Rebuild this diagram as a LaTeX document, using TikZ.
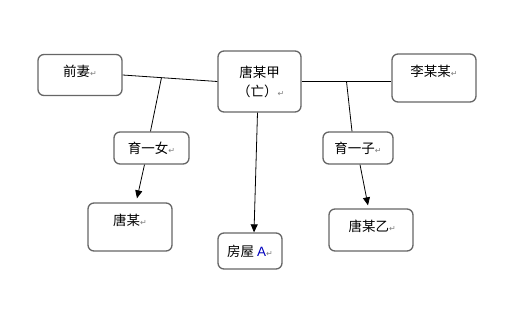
\documentclass[tikz,border=0pt]{standalone}
\usepackage{fontspec}
\setmainfont{Noto Sans CJK SC}
\newfontfamily\dejavu{DejaVu Sans}
\newfontfamily\arial{Liberation Sans}
\usetikzlibrary{arrows.meta}
\newcommand\parmark{{\fontsize{8}{8}\selectfont\dejavu\color{gray}↵}}
\tikzset{
  box/.style={
    shape = rectangle,
    draw = black!60,
    line width = 1.3pt,
    rounded corners = 6pt,
    fill = white,
    inner sep = 0pt,
    align = center,
    font = \fontsize{13.5}{19}\selectfont
  },
  marriage/.style={
    line width = 0.8pt
  },
  descent/.style={
    line width = 0.8pt,
    -{Triangle[length=8pt,width=7pt]}
  }
}
\begin{document}
\begin{tikzpicture}[x=1pt,y=-1pt]
    \useasboundingbox (0,0) rectangle (520,320);
    \node[box,minimum width=84,minimum height=41,text height=10pt,text depth=6pt] (qianqi) at (80,75) {前妻\parmark};
    \node[box,minimum width=83,minimum height=61] (tangjia) at (259.5,81.5) {唐某甲\\\,（亡）\parmark};
    \node[box,minimum width=84,minimum height=48,text height=10pt,text depth=13pt] (li) at (434,78) {李某某\parmark};
    \node[box,minimum width=75,minimum height=32] (nv) at (151.5,148) {育一女\parmark};
    \node[box,minimum width=70,minimum height=32] (zi) at (358,148) {育一子\parmark};
    \node[box,minimum width=84,minimum height=48,text height=10pt,text depth=13pt] (tang) at (130,227) {唐某\parmark};
    \node[box,minimum width=64,minimum height=36] (fang) at (250,251) {房屋 {\arial\color{blue!75!black}A}\parmark};
    \node[box,minimum width=84,minimum height=42,text height=10pt,text depth=7pt] (tangyi) at (371,230) {\,唐某乙\parmark};
    \draw[marriage] (qianqi.east) -- coordinate[pos=0.41] (b1) (tangjia.west);
    \draw[marriage] (tangjia.east) -- coordinate[pos=0.5] (b2) (tangjia.east -| li.west);
    \draw[marriage] (b1) -- ([xshift=-1]nv.north);
    \draw[marriage] (b2) -- ([xshift=-6]zi.north);
    \draw[descent] ([xshift=-7]nv.south) -- ([xshift=7,yshift=4]tang.north);
    \draw[descent] ([xshift=-2]tangjia.south) -- ([xshift=4]fang.north);
    \draw[descent] ([xshift=2]zi.south) -- ([xshift=-3,yshift=3]tangyi.north);
\end{tikzpicture}
\end{document}
